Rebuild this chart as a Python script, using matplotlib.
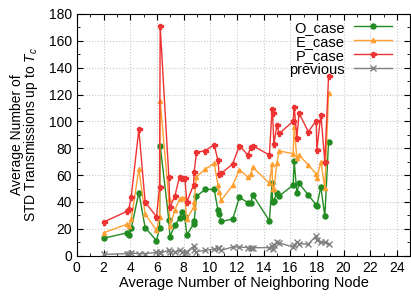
import numpy as np
import matplotlib
matplotlib.use("Agg")
import matplotlib.pyplot as plt
from matplotlib.ticker import MultipleLocator

plt.rcParams['font.family'] = ['Liberation Sans', 'DejaVu Sans']
plt.rcParams['mathtext.fontset'] = 'custom'
plt.rcParams['mathtext.it'] = 'Liberation Sans:italic'

# average number of neighboring nodes (same for every series)
nodes = [2.0, 3.75, 3.9, 4.08, 4.65, 5.12, 5.97, 6.2, 6.25, 6.9,
         6.98, 7.35, 7.7, 7.92, 8.1, 8.25, 8.75, 8.8, 8.97, 9.63,
         10.3, 10.58, 10.68, 10.82, 11.69, 12.19, 12.82, 13.06, 13.18, 14.44,
         14.64, 14.68, 14.78, 15.0, 15.17, 16.22, 16.3, 16.5, 16.67, 17.36,
         17.95, 18.0, 18.3, 18.6, 18.88]

o_case = [13, 17, 15.4, 20.4, 47, 21, 11.2, 20.4, 82, 26.6,
          14.2, 22.5, 28, 32.5, 28.5, 15.4, 23.6, 25.5, 44.3, 49.4,
          49.4, 34, 31.2, 25.5, 27.3, 43.5, 39.5, 39.2, 45.5, 26,
          54, 40, 41, 47, 44.4, 52.6, 70.5, 46.6, 53.8, 45.2,
          37.8, 37, 51.4, 29.3, 85]

e_case = [17, 23.4, 22, 27, 64.5, 31, 19, 28.6, 115, 42,
          22, 34, 42, 42.7, 43.2, 27.3, 36, 40, 58.8, 64.5,
          68.8, 52.6, 47.5, 41.2, 52.5, 64, 58.6, 61, 66, 54,
          68, 49.4, 50, 69, 78, 76, 96, 72.5, 75, 67.5,
          61, 57.6, 70, 50.2, 121]

p_case = [25, 33, 35, 44, 94, 40, 29, 51, 171, 58.3,
          36, 44.5, 58.8, 58.2, 57.6, 40, 52.6, 62.6, 77, 78.2,
          82.6, 71, 60.5, 61.3, 68.3, 82, 75, 81.2, 82, 75,
          109, 106, 83, 97, 91, 100, 111, 88, 106, 92.3,
          100.5, 78.7, 105, 70, 134]

previous = [1, 1.5, 1.5, 2, 1.5, 1.5, 2.5, 3, 2, 4,
            3, 3, 4, 3, 2, 3, 7, 4, 3, 4,
            5, 5.5, 6, 4, 6.5, 6.5, 6, 5.5, 6, 6,
            7.5, 5, 8, 10, 9.5, 6.5, 8, 10, 9, 8.5,
            15, 12, 10, 10, 9]

fig = plt.figure(figsize=(4.11, 2.97), dpi=100)
ax = fig.add_axes([0.187, 0.139, 0.811, 0.814])

ax.plot(nodes, o_case, color="#228b22", marker="o", ms=3.6, lw=1, label="O_case")
ax.plot(nodes, e_case, color="#ffa033", marker="^", ms=3, lw=1, label="E_case")
ax.plot(nodes, p_case, color="#ee3333", marker="P", ms=3.6, lw=1, label="P_case")
ax.plot(nodes, previous, color="#808080", marker="x", ms=4.5, lw=1, label="previous")

ax.set_xlim(0, 25)
ax.set_ylim(0, 180)
ax.xaxis.set_major_locator(MultipleLocator(2))
ax.xaxis.set_minor_locator(MultipleLocator(1))
ax.yaxis.set_major_locator(MultipleLocator(20))
ax.yaxis.set_minor_locator(MultipleLocator(10))
ax.tick_params(which="both", direction="in", top=True, right=True, labelsize=10)
ax.tick_params(which="major", length=4)
ax.tick_params(which="minor", length=2)
ax.grid(True, which="major", color="#c8c8c8", linestyle=":", lw=0.8)

ax.set_xlabel("Average Number of Neighboring Node", fontsize=10.5, labelpad=1)
ax.set_ylabel("Average Number of\nSTD Transmissions up to $T_c$", fontsize=10,
              linespacing=0.9, labelpad=6)

ax.legend(loc="upper right", bbox_to_anchor=(0.965, 1.0), frameon=False,
          markerfirst=False, fontsize=10.5, handlelength=2.6, labelspacing=0.0,
          borderaxespad=0.45, borderpad=0.0, handletextpad=0.65)

fig.savefig("out.png", dpi=100)
